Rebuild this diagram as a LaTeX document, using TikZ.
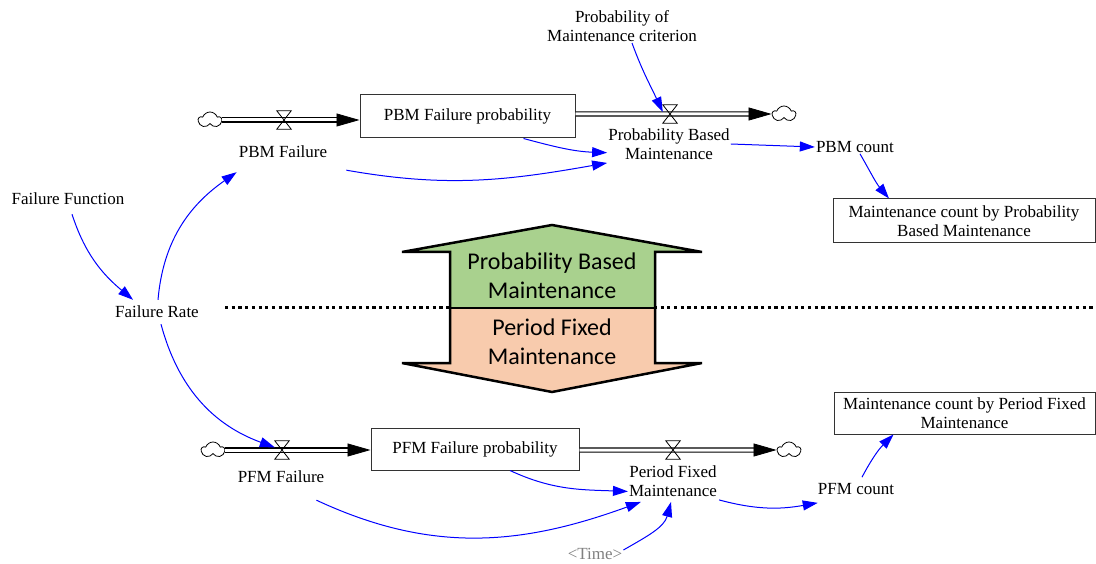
\documentclass[tikz,border=0pt]{standalone}
\usepackage{fontspec}
\setmainfont{Liberation Serif}
\newfontfamily\calibri{Carlito}
\usetikzlibrary{arrows.meta,shapes.symbols}
\definecolor{pbmgreen}{RGB}{169,209,142}
\definecolor{pfmpeach}{RGB}{248,203,173}
\begin{document}
\begin{tikzpicture}[x=1pt,y=1pt,
    var/.style={font=\fontsize{17}{19.5}\selectfont, align=center, inner sep=1pt},
    stock/.style={var, draw=black!80, line width=1pt, minimum height=43pt},
    cloudy/.style={cloud, cloud puffs=5, cloud puff arc=140, aspect=1.5, draw, line width=0.8pt, inner sep=0pt, minimum width=23pt, minimum height=16pt},
    valve/.style={inner sep=0pt, minimum width=14pt, minimum height=18pt},
    valveline/.style={line width=0.8pt, line join=miter},
    pipe/.style={draw=white, line width=0.8pt, -{Triangle[length=23pt,width=13pt,color=black]},
        preaction={draw=black, -, double, double distance=3pt, line width=1.1pt, shorten >=19pt}},
    link/.style={blue, line width=1pt, -{Triangle[length=15pt,width=10pt]}},
    bigtxt/.style={font=\calibri\fontsize{24}{29}\selectfont, align=center},
    dotline/.style={line width=3pt, dash pattern=on 3.2pt off 3.5pt}]
    \useasboundingbox (0,0) rectangle (1096,-564);

    \draw[dotline] (225,-308) -- (1096,-308);
    \fill[pbmgreen] (552,-225) -- (702,-252) -- (655,-252) -- (655,-308) -- (450,-308) -- (450,-252) -- (402,-252) -- cycle;
    \fill[pfmpeach] (450,-308) -- (655,-308) -- (655,-363) -- (702,-363) -- (552,-392) -- (402,-363) -- (450,-363) -- cycle;
    \draw[line width=2.5pt, line join=miter] (552,-225) -- (702,-252) -- (655,-252) -- (655,-363) -- (702,-363) -- (552,-392) -- (402,-363) -- (450,-363) -- (450,-252) -- (402,-252) -- cycle;
    \draw[line width=2.5pt] (450,-308) -- (655,-308);
    \node[bigtxt] (pbmtitle) at (552,-276) {Probability Based\\Maintenance};
    \node[bigtxt] (pfmtitle) at (552,-342) {Period Fixed\\Maintenance};

    \node[var] (crit) at (622,-26) {Probability of\\Maintenance criterion};
    \node[cloudy] (c1) at (210,-120) {};
    \node[stock, minimum width=215pt] (box1) at (467.5,-116.5) {PBM Failure probability};
    \node[cloudy] (c2) at (784,-114) {};
    \node[valve] (v1) at (284,-120) {};
    \node[valve] (v2) at (670,-114) {};
    \node[var] (pbmfail) at (283,-152) {PBM Failure};
    \node[var] (pbmlab) at (669,-144) {Probability Based\\Maintenance};
    \node[var] (pbmcount) at (855,-147) {PBM count};
    \node[stock, minimum width=262pt, minimum height=44pt] (pbmbox) at (964,-221) {Maintenance count by Probability\\Based Maintenance};
    \node[var] (failfun) at (68,-199) {Failure Function};
    \node[var] (failrate) at (157,-312) {Failure Rate};

    \node[cloudy] (c3) at (213,-450) {};
    \node[stock, minimum width=208pt, minimum height=42pt] (box2) at (475,-449) {PFM Failure probability};
    \node[cloudy] (c4) at (789,-450) {};
    \node[valve] (v3) at (282,-450) {};
    \node[valve] (v4) at (673,-450) {};
    \node[var] (pfmfail) at (281,-477) {PFM Failure};
    \node[var] (pfmlab) at (673,-481) {Period Fixed\\Maintenance};
    \node[var] (pfmcount) at (856,-489) {PFM count};
    \node[stock, minimum width=261pt, minimum height=42pt] (pfmbox) at (964.5,-413) {Maintenance count by Period Fixed\\Maintenance};
    \node[var, text=gray] (time) at (595,-554) {<Time>};

    \draw[pipe] (c1.east) -- (c1.east -| box1.west);
    \draw[pipe] (box1.east |- c2) -- (c2.west);
    \draw[pipe] (c3.east) -- (c3.east -| box2.west);
    \draw[pipe] (box2.east |- c4) -- (c4.west);
    \foreach \v in {v1,v2,v3,v4}
        \draw[valveline] (\v.north west) -- (\v.north east) -- (\v.south west) -- (\v.south east) -- cycle;

    \draw[link] ([xshift=10pt]crit.south) to[out=-70,in=115] (v2.165);
    \draw[link] ([xshift=56pt]box1.south) to[out=-15,in=178] (pbmlab.188);
    \draw[link] ([shift={(18pt,-11pt)}]pbmfail.south east) to[out=-10,in=190] ([yshift=-2pt]pbmlab.south west);
    \draw[link] (pbmlab.east) -- (pbmcount.west);
    \draw[link] ([xshift=5pt]pbmcount.south) to[out=-60,in=130] ([xshift=-75pt]pbmbox.north);
    \draw[link] ([shift={(4pt,-8pt)}]failfun.south) to[out=-72,in=140] ([shift={(19pt,5pt)}]failrate.north west);
    \draw[link] ([shift={(1pt,5pt)}]failrate.north) to[out=85,in=-145] ([shift={(-1pt,-13pt)}]pbmfail.south west);
    \draw[link] ([shift={(4pt,-5pt)}]failrate.south) to[out=-75,in=160] (v3.160);
    \draw[link] ([xshift=35pt]box2.south) to[out=-25,in=178] (pfmlab.193);
    \draw[link] ([shift={(-9pt,-16pt)}]pfmfail.south east) to[out=-25,in=200] ([shift={(13pt,-4pt)}]pfmlab.south west);
    \draw[link] ([yshift=4pt]time.east) to[out=30,in=-105] ([shift={(-2pt,-4pt)}]pfmlab.south);
    \draw[link] ([shift={(1pt,-2pt)}]pfmlab.south east) to[out=-15,in=190] ([shift={(1pt,-7pt)}]pfmcount.south west);
    \draw[link] ([shift={(6pt,5pt)}]pfmcount.north) to[out=62,in=-135] ([xshift=-71pt]pfmbox.south);
\end{tikzpicture}
\end{document}
